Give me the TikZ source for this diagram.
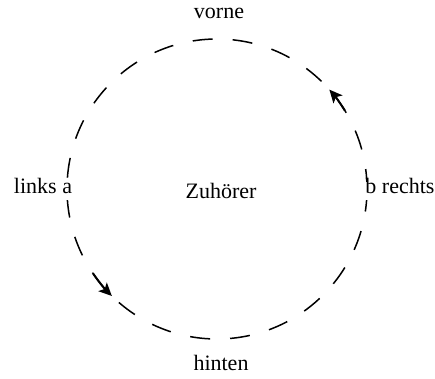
\documentclass[tikz,border=0pt]{standalone}
\usepackage{fontspec}
\setmainfont{Liberation Serif}
\usetikzlibrary{arrows.meta}
\tikzset{
  lbl/.style={font=\fontsize{22}{26}\selectfont, inner sep=0pt, anchor=base},
  sidelbl/.style={lbl, fill=white, inner sep=4pt, text height=0.75em, text depth=0.25em, anchor=center},
  ring/.style={line width=1.5pt, dash pattern=on 20pt off 20pt},
  flow/.style={line width=2pt, -{Stealth[length=13pt,width=12pt,inset=3pt]}}
}
\begin{document}
\begin{tikzpicture}[x=1pt,y=1pt]
  \useasboundingbox (0,0) rectangle (435,378);
  \coordinate (c) at (217,189);
  % the listening circle
  \draw[ring] (c) circle[radius=150];
  % direction of travel round the circle
  \draw[flow] ([shift={(214.4:150)}]c) arc[start angle=214.4, end angle=225.5, radius=150];
  \draw[flow] ([shift={(31.5:150)}]c) arc[start angle=31.5, end angle=41.5, radius=150];
  % labels
  \node[lbl] (vorne) at (219,359) {vorne};
  \node[lbl] (hinten) at (221,8) {hinten};
  \node[sidelbl] (links) at (43,187) {links a};
  \node[sidelbl] (rechts) at (400,187) {b rechts};
  \node[lbl] (mitte) at (221,180) {Zuhörer};
\end{tikzpicture}
\end{document}
